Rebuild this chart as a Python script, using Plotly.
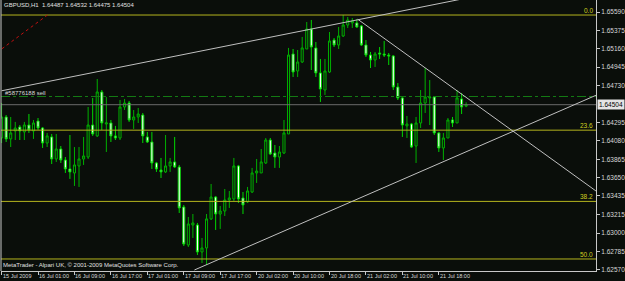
import plotly.graph_objects as go

# ---- data (GBPUSD H1) ----
opens = [1.64114,1.64360,1.64103,1.64196,1.64243,1.64185,1.64266,1.64196,1.64313,1.64231,
         1.64055,1.64126,1.63868,1.63985,1.63856,1.63751,1.63704,1.63786,1.63868,1.63891,
         1.64266,1.64138,1.64653,1.64278,1.64290,1.64138,1.64114,1.64477,1.64524,1.64325,
         1.64360,1.64383,1.64126,1.64067,1.63821,1.63739,1.63716,1.63786,1.63833,1.63774,
         1.63305,1.62860,1.63094,1.63094,1.62778,1.62825,1.63165,1.63422,1.63223,1.63258,
         1.63387,1.63399,1.63786,1.63411,1.63364,1.63481,1.63704,1.63704,1.63821,1.64090,
         1.63938,1.63891,1.63938,1.64161,1.65098,1.64899,1.65004,1.65157,1.65391,1.65169,
         1.64876,1.64676,1.64887,1.65262,1.65204,1.65309,1.65438,1.65462,1.65462,1.65427,
         1.65204,1.65086,1.65028,1.65110,1.65098,1.65086,1.65075,1.64711,1.64583,1.64255,
         1.64278,1.64020,1.64290,1.64524,1.64583,1.64594,1.64173,1.63997,1.64114,1.64325,
         1.64290,1.64571,1.64487]
highs = [1.64524,1.64383,1.64360,1.64302,1.64266,1.64302,1.64395,1.64325,1.64348,1.64243,
         1.64173,1.64161,1.64161,1.64020,1.63891,1.64149,1.64008,1.64008,1.64126,1.64477,
         1.64583,1.64805,1.64676,1.64594,1.64325,1.64255,1.64559,1.64571,1.64548,1.64442,
         1.64466,1.64407,1.64185,1.64185,1.63833,1.63880,1.64149,1.63880,1.64126,1.63798,
         1.63329,1.63188,1.63223,1.63118,1.62942,1.63223,1.63575,1.63434,1.63317,1.63516,
         1.63493,1.63880,1.63798,1.63481,1.63540,1.63763,1.63868,1.63985,1.64114,1.64114,
         1.64032,1.64020,1.64325,1.65169,1.65157,1.65145,1.65298,1.65473,1.65497,1.65239,
         1.65040,1.65040,1.65356,1.65286,1.65415,1.65555,1.65532,1.65520,1.65508,1.65438,
         1.65262,1.65122,1.65122,1.65180,1.65251,1.65110,1.65086,1.64758,1.64594,1.64372,
         1.64290,1.64360,1.64676,1.64934,1.64793,1.64594,1.64185,1.64173,1.64348,1.64360,
         1.64676,1.64641,1.64532]
lows = [1.64055,1.64067,1.64008,1.64090,1.64090,1.64090,1.64173,1.64103,1.64208,1.63997,
        1.64008,1.63809,1.63833,1.63821,1.63704,1.63634,1.63552,1.63540,1.63798,1.63868,
        1.64138,1.64126,1.64208,1.63950,1.64067,1.64090,1.64090,1.64442,1.64302,1.64220,
        1.64290,1.64055,1.64055,1.63751,1.63716,1.63645,1.63704,1.63716,1.63763,1.63235,
        1.62848,1.62836,1.62942,1.62743,1.62649,1.62626,1.63153,1.63036,1.63048,1.63200,
        1.63294,1.63375,1.63352,1.63223,1.63352,1.63469,1.63587,1.63704,1.63809,1.63915,
        1.63763,1.63763,1.63926,1.64161,1.64829,1.64829,1.64993,1.65157,1.64911,1.64829,
        1.64536,1.64618,1.64876,1.65180,1.65157,1.65297,1.65403,1.65403,1.65403,1.65192,
        1.65063,1.64934,1.64946,1.65040,1.65063,1.64969,1.64676,1.64559,1.64126,1.64114,
        1.63997,1.63821,1.64231,1.64407,1.64266,1.64149,1.63950,1.63856,1.64114,1.64243,
        1.64290,1.64395,1.64475]
closes = [1.64360,1.64103,1.64173,1.64231,1.64196,1.64266,1.64208,1.64290,1.64231,1.64055,
          1.64138,1.63868,1.63985,1.63856,1.63751,1.63716,1.63798,1.63868,1.63903,1.64266,
          1.64161,1.64653,1.64290,1.64290,1.64138,1.64114,1.64477,1.64524,1.64325,1.64360,
          1.64395,1.64138,1.64067,1.63821,1.63751,1.63716,1.63786,1.63833,1.63774,1.63294,
          1.62871,1.63106,1.63118,1.62778,1.62825,1.63165,1.63422,1.63223,1.63258,1.63387,
          1.63411,1.63786,1.63399,1.63329,1.63493,1.63704,1.63727,1.63833,1.64090,1.63926,
          1.63891,1.63950,1.64173,1.65086,1.64887,1.65004,1.65169,1.65391,1.65180,1.64876,
          1.64688,1.64899,1.65251,1.65204,1.65309,1.65438,1.65497,1.65485,1.65415,1.65204,
          1.65086,1.65028,1.65098,1.65098,1.65086,1.65075,1.64711,1.64583,1.64266,1.64278,
          1.64008,1.64290,1.64524,1.64594,1.64594,1.64173,1.63997,1.64114,1.64325,1.64290,
          1.64583,1.64477,1.64504]
bar_index = list(range(len(opens)))

time_tick_pos = [0, 8, 16, 24, 32, 40, 48, 56, 64, 72, 80, 88, 96]
time_tick_labels = ["15 Jul 2009", "16 Jul 01:00", "16 Jul 09:00", "16 Jul 17:00",
                    "17 Jul 01:00", "17 Jul 09:00", "17 Jul 17:00", "20 Jul 02:00",
                    "20 Jul 10:00", "20 Jul 18:00", "21 Jul 02:00", "21 Jul 10:00",
                    "21 Jul 18:00"]
price_ticks = [1.65590, 1.65375, 1.65160, 1.64945, 1.64730, 1.64295, 1.64080,
               1.63865, 1.63650, 1.63435, 1.63215, 1.63000, 1.62785, 1.62570]
price_tick_labels = [f"{v:.5f}" for v in price_ticks]

fib_high = 1.65555
fib_low = 1.59837
fib_levels = [0.0, 23.6, 38.2, 50.0]
fib_labels = ["0.0", "23.6", "38.2", "50.0"]

current_price = 1.64504
order_price = 1.64600
order_label = "#58776188 sell"
header_text = "GBPUSD,H1  1.64487 1.64532 1.64475 1.64504"
footer_text = "MetaTrader - Alpari UK, \u00a9 2001-2009 MetaQuotes Software Corp."

# drawn objects (bar index, price)
trend_upper = (0.0, 1.64667, 120.0, 1.65944)
trend_down = (78.2, 1.65505, 130.5, 1.63493)
trend_rise = (42.34, 1.62567, 130.5, 1.64614)
fib_base = (-1.0, 1.65117, 10.07, 1.65555)

x_range = [-0.13, 130.51]
y_range = [1.62555, 1.65731]

BG = "#0a0e0a"
AX = "#c8c8c8"
FIBC = "#b4b41e"
FONT = "Liberation Sans"

fig = go.Figure()
fig.add_trace(go.Candlestick(
    x=bar_index, open=opens, high=highs, low=lows, close=closes,
    increasing=dict(line=dict(color="#00b000", width=1), fillcolor=BG),
    decreasing=dict(line=dict(color="#00d800", width=1), fillcolor="#ffffff"),
    whiskerwidth=0, hoverinfo="skip", showlegend=False,
))

shapes = []
for lv in fib_levels:
    p = fib_high - (fib_high - fib_low) * lv / 100.0
    shapes.append(dict(type="line", xref="paper", x0=0, x1=1, yref="y", y0=p, y1=p,
                       line=dict(color=FIBC, width=1)))
shapes.append(dict(type="line", xref="paper", x0=0, x1=1, yref="y", y0=order_price, y1=order_price,
                   line=dict(color="#137a13", width=1, dash="dashdot")))
shapes.append(dict(type="line", xref="paper", x0=0, x1=1, yref="y", y0=current_price, y1=current_price,
                   line=dict(color="#6a6a6a", width=1)))
for (x0, y0, x1, y1), col, dash in [(trend_upper, "#c0c0c0", "solid"),
                                    (trend_down, "#c0c0c0", "solid"),
                                    (trend_rise, "#c0c0c0", "solid"),
                                    (fib_base, "#c01010", "dot")]:
    shapes.append(dict(type="line", xref="x", yref="y", x0=x0, y0=y0, x1=x1, y1=y1,
                       line=dict(color=col, width=1, dash=dash)))
shapes.append(dict(type="line", xref="paper", yref="paper", x0=0, x1=0, y0=0, y1=1,
                   line=dict(color=AX, width=1)))

annotations = []
for lv, lab in zip(fib_levels, fib_labels):
    p = fib_high - (fib_high - fib_low) * lv / 100.0
    annotations.append(dict(text=lab, xref="paper", x=0.997, xanchor="right", yref="y", y=p,
                            yanchor="bottom", showarrow=False, borderpad=0,
                            font=dict(family=FONT, size=6.5, color="#d0d020")))
for pos, lab in zip(time_tick_pos, time_tick_labels):
    annotations.append(dict(text=lab, xref="x", x=pos, xanchor="left", xshift=0,
                            yref="paper", y=0, yanchor="top", yshift=-1, showarrow=False,
                            borderpad=0, font=dict(family=FONT, size=5.5, color="#d8d8d8")))
annotations.append(dict(text=header_text, xref="paper", x=0.004, xanchor="left",
                        yref="paper", y=0.997, yanchor="top", showarrow=False, borderpad=0,
                        font=dict(family=FONT, size=6, color="#e0e0e0")))
annotations.append(dict(text=footer_text, xref="paper", x=0.002, xanchor="left",
                        yref="paper", y=0.007, yanchor="bottom", showarrow=False, borderpad=0,
                        font=dict(family=FONT, size=6, color="#e0e0e0")))
annotations.append(dict(text=order_label, xref="paper", x=0.005, xanchor="left",
                        yref="y", y=order_price, yanchor="bottom", yshift=0, showarrow=False,
                        borderpad=0, font=dict(family=FONT, size=6, color="#d8d8d8")))
annotations.append(dict(text=f"{current_price:.5f}", xref="paper", x=1.0, xanchor="left", xshift=1,
                        yref="y", y=current_price, yanchor="middle", showarrow=False,
                        bgcolor="#e4e4e4", borderpad=1,
                        font=dict(family=FONT, size=6.5, color="#000000")))

fig.update_layout(
    width=625, height=281,
    margin=dict(l=1, r=22, t=0, b=10, pad=0),
    paper_bgcolor=BG, plot_bgcolor=BG,
    shapes=shapes, annotations=annotations,
    boxgap=0.35,
    xaxis=dict(range=x_range, rangeslider=dict(visible=False), showgrid=False, zeroline=False,
               showline=True, linecolor=AX, linewidth=1, ticks="outside", ticklen=3,
               tickcolor=AX, tickvals=time_tick_pos, showticklabels=False, fixedrange=True),
    yaxis=dict(range=y_range, side="right", showgrid=False, zeroline=False,
               showline=True, linecolor=AX, linewidth=1, ticks="outside", ticklen=3,
               tickcolor=AX, tickvals=price_ticks, ticktext=price_tick_labels,
               tickfont=dict(family=FONT, size=6.5, color="#d8d8d8"), fixedrange=True),
)

fig.write_html("out.html")
